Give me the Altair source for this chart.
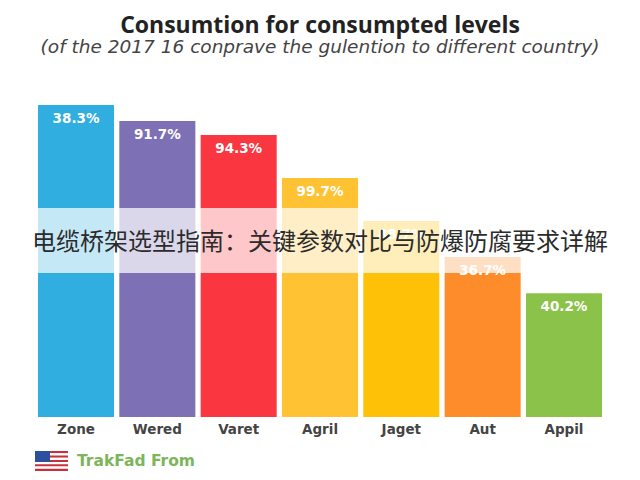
import altair as alt
import pandas as pd

categories = ["Zone", "Wered", "Varet", "Agril", "Jaget", "Aut", "Appil"]
heights = [100, 94.9, 90.4, 76.6, 62.8, 51.3, 39.7]
labels = ["38.3%", "91.7%", "94.3%", "99.7%", "88.7%", "36.7%", "40.2%"]
colors = ["#2FAEDF", "#7E70B4", "#FA3640", "#FFC233", "#FFC107", "#FF8C2B", "#8BC34A"]
stripe_ids = list(range(9))
stripe_colors = ["#C8303C", "#FFFFFF"] * 4 + ["#C8303C"]

PH = 312
PW = 564

df = pd.DataFrame({"cat": categories, "h": heights, "label": labels, "color": colors})
x = alt.X("cat:N", sort=categories, title=None,
          scale=alt.Scale(paddingInner=0.065, paddingOuter=0),
          axis=alt.Axis(domain=False, ticks=False, labelAngle=0, labelFontSize=13.5,
                        labelFont="DejaVu Sans", labelFontWeight="bold", labelColor="#444444",
                        labelPadding=5, grid=False))
y = alt.Y("h:Q", scale=alt.Scale(domain=[0, 100]), axis=None)

bars = alt.Chart(df).mark_bar(cornerRadius=0).encode(
    x=x, y=y, color=alt.Color("color:N", scale=None, legend=None))
vals = alt.Chart(df).mark_text(color="white", fontSize=13.5, fontWeight="bold", font="DejaVu Sans",
                               baseline="middle", dy=14).encode(x=x, y=y, text="label:N")

band = alt.Chart(df.head(1)).mark_rect(color="white", opacity=0.72).encode(
    x=alt.value(-38), x2=alt.value(602), y=alt.value(103), y2=alt.value(168))
banner = alt.Chart(df.head(1)).mark_text(
    text="电缆桥架选型指南：关键参数对比与防爆防腐要求详解", font="Noto Sans CJK SC",
    fontSize=24, color="#2b2b2b", align="center", baseline="middle").encode(
    x=alt.value(282), y=alt.value(138))

fdf = pd.DataFrame({"s": stripe_ids, "c": stripe_colors})
flag = alt.Chart(fdf).mark_rect().encode(
    x=alt.value(-3), x2=alt.value(30),
    y=alt.Y("s:O", axis=None, scale=alt.Scale(range=[346, 366], paddingInner=0, paddingOuter=0)),
    color=alt.Color("c:N", scale=None, legend=None))
canton = alt.Chart(df.head(1)).mark_rect(color="#2C4F9E").encode(
    x=alt.value(-3), x2=alt.value(12), y=alt.value(346), y2=alt.value(357))
footer = alt.Chart(df.head(1)).mark_text(
    text="TrakFad From", font="DejaVu Sans", fontSize=15.5, fontWeight="bold", color="#7CB55A",
    align="left", baseline="middle").encode(x=alt.value(39), y=alt.value(356))

chart = alt.layer(bars, vals, flag, canton, footer, band, banner).resolve_scale(
    y="independent", color="independent"
).properties(
    width=PW, height=PH,
    background="white",
    padding={"left": 30, "top": 97, "right": 30, "bottom": 55},
    autosize=alt.AutoSizeParams(type="none"),
    title=alt.TitleParams(
        "Consumtion for consumpted levels",
        subtitle="(of the 2017 16 conprave the gulention to different country)",
        anchor="middle", font="Open Sans", fontSize=23, fontWeight="bold", color="#222222",
        subtitleFont="DejaVu Sans", subtitleFontSize=18.5, subtitleFontStyle="italic",
        subtitleColor="#444444", subtitlePadding=0, offset=49),
).configure_view(strokeWidth=0, stroke="transparent")

chart.save("out.html", embed_options={"renderer": "svg", "actions": False})
